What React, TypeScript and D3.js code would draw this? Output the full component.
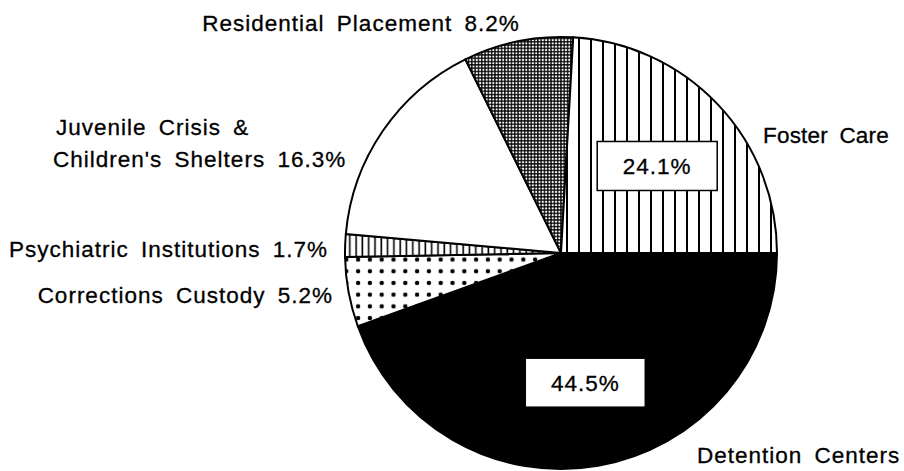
import React from "react";
import * as d3 from "d3";

const categories = [
  "Detention Centers",
  "Corrections Custody",
  "Psychiatric Institutions",
  "Juvenile Crisis & Children's Shelters",
  "Residential Placement",
  "Foster Care",
];
const values = [44.5, 5.2, 1.7, 16.3, 8.2, 24.1];
const fills = ["black", "url(#dots)", "url(#vlinesFine)", "white", "url(#grid)", "url(#vlines)"];
// slices whose percentage is shown inside a box
const boxed = [true, false, false, false, false, true];

// outer label layout (lines of text, anchor, x, baseline, letter spacing)
const outerLabels: { idx: number; lines: string[]; anchor: string; x: number[]; y: number[]; ls: number }[] = [
  { idx: 0, lines: ["Detention Centers"], anchor: "start", x: [697], y: [463], ls: 1 },
  { idx: 1, lines: ["Corrections Custody 5.2%"], anchor: "end", x: [333], y: [303], ls: 1 },
  { idx: 2, lines: ["Psychiatric Institutions 1.7%"], anchor: "end", x: [328], y: [257], ls: 1 },
  { idx: 3, lines: ["Juvenile Crisis &", "Children's Shelters 16.3%"], anchor: "start", x: [56, 53], y: [135, 167], ls: 1 },
  { idx: 4, lines: ["Residential Placement 8.2%"], anchor: "middle", x: [361], y: [31], ls: 1 },
  { idx: 5, lines: ["Foster Care"], anchor: "start", x: [763], y: [143], ls: 0.2 },
];

const W = 904;
const H = 471;
const CX = 561;
const CY = 253;
const R = 216;
const FONT = "'Liberation Sans', Arial, Helvetica, sans-serif";
const FS = 22.5;

export default function App() {
  const pie = d3
    .pie<number>()
    .sort(null)
    .value((d) => d)
    .startAngle(Math.PI / 2)
    .endAngle(Math.PI / 2 + 2 * Math.PI);
  const arcs = pie(values);
  const arc = d3.arc<d3.PieArcDatum<number>>().innerRadius(0).outerRadius(R);
  const boxArc = d3.arc<d3.PieArcDatum<number>>().innerRadius(R * 0.6).outerRadius(R * 0.6);

  const textStyle = (ls: number) =>
    ({
      fontFamily: FONT,
      fontSize: FS,
      letterSpacing: `${ls}px`,
      wordSpacing: "5px",
      stroke: "black",
      strokeWidth: 0.3,
    } as React.CSSProperties);

  return (
    <svg
      width={W}
      height={H}
      style={{ position: "absolute", left: 0, top: 0, background: "white" }}
    >
      <defs>
        <pattern id="vlines" patternUnits="userSpaceOnUse" width={12} height={20} x={0} y={0}>
          <rect width={12} height={20} fill="white" />
          <line x1={6} y1={0} x2={6} y2={20} stroke="black" strokeWidth={2} />
        </pattern>
        <pattern id="vlinesFine" patternUnits="userSpaceOnUse" width={6.3} height={20} x={0} y={0}>
          <rect width={6.3} height={20} fill="white" />
          <line x1={3} y1={0} x2={3} y2={20} stroke="black" strokeWidth={1.6} />
        </pattern>
        <pattern id="dots" patternUnits="userSpaceOnUse" width={11.8} height={11.7} x={345.8} y={258.1}>
          <rect width={11.8} height={11.7} fill="white" />
          <circle cx={5.9} cy={5.9} r={2.2} fill="black" />
        </pattern>
        <pattern id="grid" patternUnits="userSpaceOnUse" width={3.3} height={3.3}>
          <rect width={3.3} height={3.3} fill="black" />
          <rect x={0.6} y={0.6} width={2.0} height={2.0} fill="white" />
        </pattern>
      </defs>
      <g transform={`translate(${CX},${CY})`}>
        {arcs.map((a, i) => (
          <path key={categories[i]} d={arc(a) || ""} fill={fills[i]} stroke="black" strokeWidth={2} strokeLinejoin="round" />
        ))}
        {arcs.map((a, i) => {
          if (!boxed[i]) return null;
          const [x, y] = boxArc.centroid(a);
          const bw = 120;
          const bh = 49;
          return (
            <g key={"box" + i} transform={`translate(${x + 2},${y + 2})`}>
              <rect x={-bw / 2} y={-bh / 2} width={bw} height={bh} fill="white" stroke="black" strokeWidth={1.5} />
              <text textAnchor="middle" y={8} style={textStyle(1)}>
                {values[i].toFixed(1)}%
              </text>
            </g>
          );
        })}
      </g>
      {outerLabels.map((l) =>
        l.lines.map((line, j) => (
          <text key={l.idx + "-" + j} x={l.x[j]} y={l.y[j]} textAnchor={l.anchor as any} style={textStyle(l.ls)} fill="black">
            {line}
          </text>
        ))
      )}
    </svg>
  );
}
